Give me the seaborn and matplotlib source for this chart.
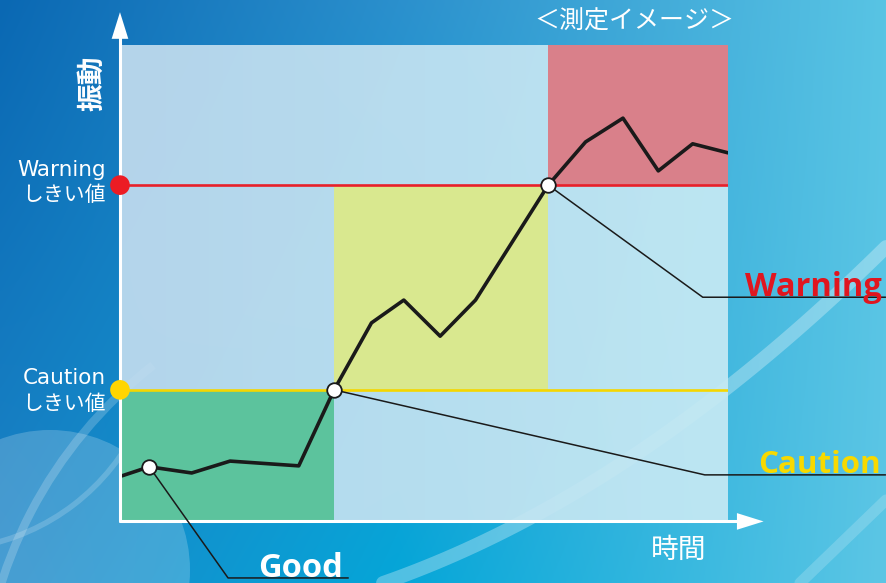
import numpy as np
import pandas as pd
import matplotlib
matplotlib.use("Agg")
import matplotlib.pyplot as plt
from matplotlib.patches import Rectangle, Circle, Arc
from matplotlib.colors import to_rgb
import seaborn as sns

# données (temps / vibration, unités arbitraires)
time = [0, 2.7, 6.9, 10.7, 17.5, 21.0, 24.7, 27.9, 31.5, 35.0, 42.2, 45.9, 49.6, 53.1, 56.5, 60.0]
vibration = [9.3, 11.2, 9.9, 12.4, 11.4, 27.4, 41.5, 46.3, 38.7, 46.3, 70.5, 79.6, 84.6, 73.5, 79.2, 77.3]

caution_level = 27.4
warning_level = 70.5

marker_time = [2.7, 21.0, 42.2]
marker_vib = [11.2, 27.4, 70.5]

zone_names = ["Good", "Caution", "Warning"]
zone_t0 = [0, 21.0, 42.2]
zone_t1 = [21.0, 42.2, 60]
zone_v0 = [0, 27.4, 70.5]
zone_v1 = [27.4, 70.5, 100]
zone_colors = ["#5cc39d", "#d9e88f", "#d9808a"]
label_colors = ["white", "#f7d900", "#e0161f"]

# callouts: coude puis fin de la ligne horizontale
elbow_t = [10.5, 57.7, 57.5]
elbow_v = [-12.2, 9.5, 46.9]
end_t = [22.4, 75.6, 75.6]
label_t = [13.5, 63.0, 61.7]
label_size = [23.5, 22.5, 23.5]

W, H = 886, 583

sns.set_theme(style="white")
plt.rcParams['font.family'] = ['Noto Sans CJK JP', 'DejaVu Sans']
latin = ['Open Sans', 'Noto Sans CJK JP']

fig = plt.figure(figsize=(W / 100, H / 100), dpi=100)

# fond dégradé bleu
bg = fig.add_axes([0, 0, 1, 1])
bg.set_xlim(0, W)
bg.set_ylim(H, 0)
bg.axis("off")
xs = np.linspace(0, 1, 600)
top_stops = [to_rgb(c) for c in ["#0a68b3", "#2b90cd", "#58c4e4"]]
bot_stops = [to_rgb(c) for c in ["#1a86c8", "#05a6d8", "#5cc6e5"]]
def row(stops):
    return np.stack([np.interp(xs, [0, 0.45, 1], [s[k] for s in stops]) for k in range(3)], axis=-1)
vv = np.linspace(0, 1, 400)[:, None, None]
grad = (1 - vv) * row(top_stops)[None] + vv * row(bot_stops)[None]
bg.imshow(grad, extent=(0, W, H, 0), aspect="auto", interpolation="bicubic")
bg.add_patch(Circle((50, 570), 140, color="white", alpha=0.2, lw=0))
bg.add_patch(Arc((430, 720), 900, 900, theta1=183, theta2=232, color="white", alpha=0.2, lw=6))
bg.add_patch(Arc((-60, 330), 440, 440, theta1=25, theta2=80, color="white", alpha=0.18, lw=4))
sx = np.linspace(383, 886, 50)
sy = 583 - (sx - 383) * 0.349 - (sx - 383) ** 2 * 0.000634
bg.plot(sx, sy, color="white", alpha=0.3, lw=10)
bg.plot([800, 886], [583, 500], color="white", alpha=0.18, lw=8)

# axes du graphique (zone du panneau)
left, right, top, bottom = 122, 728, 45, 520
ax = fig.add_axes([left / W, 1 - bottom / H, (right - left) / W, (bottom - top) / H])
ax.patch.set_alpha(0)

panel = np.linspace(0, 1, 600)[None, :, None]
pc = (1 - panel) * np.array(to_rgb("#c3ddef")) + panel * np.array(to_rgb("#c8ebf5"))
ax.imshow(pc, extent=(0, 60, 0, 100), aspect="auto", zorder=0, alpha=0.92,
          interpolation="bicubic")

for t0, t1, v0, v1, c in zip(zone_t0, zone_t1, zone_v0, zone_v1, zone_colors):
    ax.add_patch(Rectangle((t0, v0), t1 - t0, v1 - v0, color=c, lw=0, zorder=1))

# seuils
ax.axhline(warning_level, color="#e8202a", lw=1.9, zorder=2)
ax.axhline(caution_level, color="#f5d600", lw=1.9, zorder=2)

# axes fléchés
ax.plot([-0.2, -0.2], [-0.3, 103], color="white", lw=2.2, clip_on=False, zorder=3)
ax.plot([-0.2, 62], [-0.3, -0.3], color="white", lw=2.2, clip_on=False, zorder=3)
ax.annotate("", xy=(-0.2, 107.5), xytext=(-0.2, 100), xycoords="data",
            arrowprops=dict(arrowstyle="-|>,head_length=1.6,head_width=0.5", color="white", lw=0),
            annotation_clip=False)
ax.annotate("", xy=(63.8, -0.3), xytext=(59, -0.3), xycoords="data",
            arrowprops=dict(arrowstyle="-|>,head_length=1.6,head_width=0.5", color="white", lw=0),
            annotation_clip=False)

thr = pd.DataFrame({"t": [-0.2, -0.2], "v": [warning_level, caution_level],
                    "kind": ["Warning", "Caution"]})
sns.scatterplot(data=thr, x="t", y="v", hue="kind", ax=ax, s=200,
                palette={"Warning": "#ec1c24", "Caution": "#ffd500"}, edgecolor="none",
                clip_on=False, zorder=4, legend=False)

# lignes de rappel
for mt, mv, et, ev, ft in zip(marker_time, marker_vib, elbow_t, elbow_v, end_t):
    ax.plot([mt, et, ft], [mv, ev, ev], color="#1a1a1a", lw=1.1, clip_on=False, zorder=3)

# courbe de vibration
df = pd.DataFrame({"time": time, "vibration": vibration})
sns.lineplot(data=df, x="time", y="vibration", ax=ax, color="#1a1a1a", lw=2.6, zorder=5)
sns.scatterplot(x=marker_time, y=marker_vib, ax=ax, s=110, color="white",
                edgecolor="#1a1a1a", linewidth=1.3, zorder=6, legend=False)

# étiquettes des zones
for name, lt, ev, col, fs in zip(zone_names, label_t, elbow_v, label_colors, label_size):
    ax.text(lt, ev + 0.3, name, color=col, fontsize=fs, fontweight="bold", family=latin,
            ha="left", va="baseline", clip_on=False, zorder=7)

ax.set_xlim(0, 60)
ax.set_ylim(0, 100)
ax.axis("off")

# textes
side = ['DejaVu Sans', 'Noto Sans CJK JP']
fig.text(106 / W, 1 - 170 / H, "Warning", color="white", fontsize=15.5, family=side,
         ha="right", va="center")
fig.text(106 / W, 1 - 195 / H, "しきい値", color="white", fontsize=15, ha="right", va="center")
fig.text(106 / W, 1 - 378 / H, "Caution", color="white", fontsize=15.5, family=side,
         ha="right", va="center")
fig.text(106 / W, 1 - 404 / H, "しきい値", color="white", fontsize=15, ha="right", va="center")
fig.text(92 / W, 1 - 83 / H, "振動", color="white", fontsize=20, fontweight="bold",
         rotation=90, ha="center", va="center")
fig.text(679 / W, 1 - 550 / H, "時間", color="white", fontsize=20, ha="center", va="center")
fig.text(634 / W, 1 - 22 / H, "＜測定イメージ＞", color="white", fontsize=18, ha="center", va="center")

fig.savefig("out.png", dpi=100)
